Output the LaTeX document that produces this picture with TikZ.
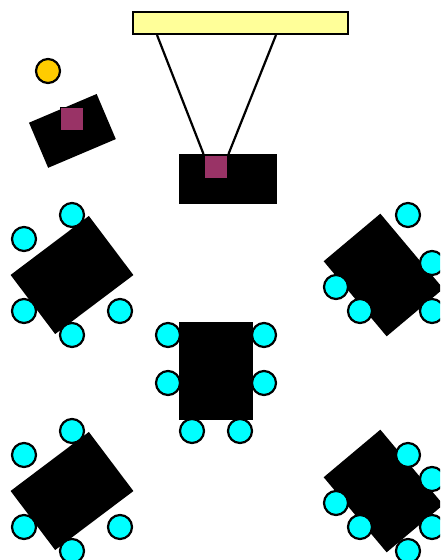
\documentclass[tikz,border=0pt]{standalone}
\tikzset{
  tablebox/.style={draw=none,fill=black,inner sep=0pt,outer sep=0pt,minimum width=#1},
  chair/.style={circle,draw=black,line width=2.2pt,fill=cyan,inner sep=0pt,minimum size=24pt},
  monitor/.style={draw=black,line width=1.5pt,fill=purp,inner sep=0pt,minimum size=23.5pt},
  cable/.style={draw=black,line width=2.2pt}
}
\definecolor{purp}{HTML}{993366}
\definecolor{yel}{HTML}{FFFF99}
\definecolor{ora}{HTML}{FFCC00}
\definecolor{cyan}{HTML}{00FFFF}
\begin{document}
\begin{tikzpicture}[x=1pt,y=-1pt]
\useasboundingbox (0,0) rectangle (440,560);
\clip (0,0) rectangle (440,560);
% screen
\node[draw=black,line width=2.2pt,fill=yel,inner sep=0pt,minimum width=215.5pt,minimum height=22.5pt] (screen) at (240.5,23) {};
\coordinate (cl) at (157,35);
\coordinate (cr) at (276,35);
% teacher
\node[circle,draw=black,line width=2.2pt,fill=ora,inner sep=0pt,minimum size=24pt] (teacher) at (48,71) {};
\node[tablebox=73.5pt,minimum height=49pt,rotate=23] (t0) at (72.4,130.9) {};
\node[monitor] (m0) at (72,119) {};
% projector table
\node[tablebox=98pt,minimum height=50pt] (t1) at (228,179) {};
\node[monitor] (m1) at (216,166.5) {};
\draw[cable] (cl) -- (m1.north west);
\draw[cable] (cr) -- (m1.north east);
% group tables
\node[tablebox=98pt,minimum height=74pt,rotate=37] (a) at (72,275) {};
\node[tablebox=98pt,minimum height=74pt,rotate=-50] (b) at (383.5,275) {};
\node[tablebox=98pt,minimum height=74pt,rotate=90] (c) at (216,371) {};
\node[tablebox=98pt,minimum height=74pt,rotate=37] (d) at (72,491) {};
\node[tablebox=98pt,minimum height=74pt,rotate=-50] (e) at (383.5,491) {};
% chairs
\foreach \n/\x/\y in {a1/72/215,a2/24/239,a3/24/311,a4/120/311,a5/72/335,
  b1/408/215,b2/432/263,b3/336/287,b4/360/311,b5/432/311,
  c1/168/335,c2/168/383,c3/264/335,c4/264/383,c5/192/431,c6/240/431,
  d1/72/431,d2/24/455,d3/24/527,d4/120/527,d5/72/551,
  e1/408/455,e2/432/479,e3/336/503,e4/360/527,e5/432/527,e6/408/551}
  \node[chair] (\n) at (\x,\y) {};
\end{tikzpicture}
\end{document}
